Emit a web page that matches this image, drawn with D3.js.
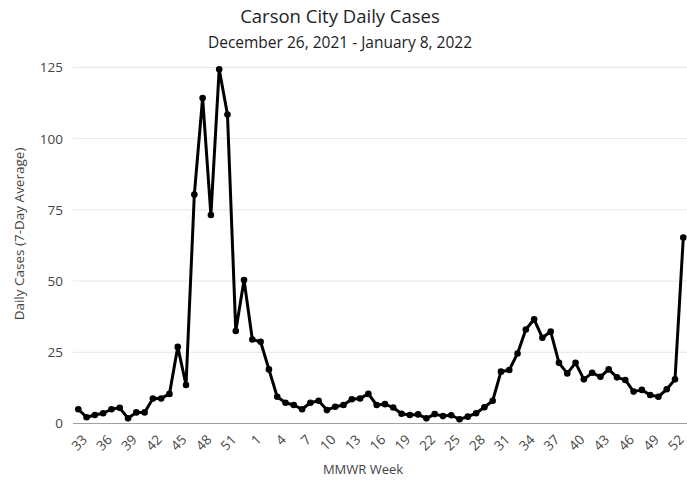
<!DOCTYPE html>
<html>
<head>
<meta charset="utf-8">
<script src="https://cdn.jsdelivr.net/npm/d3@7"></script>
<style>
  body { margin: 0; background: #fff; }
  text { font-family: "Open Sans", sans-serif; }
</style>
</head>
<body>
<div id="chart"></div>
<script>
// MMWR weeks, 2020 week 32 through 2021 week 52
const weeks = [32, 33, 34, 35, 36, 37, 38, 39, 40, 41, 42, 43, 44, 45, 46, 47, 48, 49, 50, 51, 52, 53,
  1, 2, 3, 4, 5, 6, 7, 8, 9, 10, 11, 12, 13, 14, 15, 16, 17, 18, 19, 20, 21, 22, 23, 24, 25, 26,
  27, 28, 29, 30, 31, 32, 33, 34, 35, 36, 37, 38, 39, 40, 41, 42, 43, 44, 45, 46, 47, 48, 49, 50, 51, 52];
const cases = [5.0, 2.2, 3.0, 3.6, 5.0, 5.5, 1.8, 3.9, 3.9, 8.8, 8.8, 10.4, 26.9, 13.5, 80.4, 114.3,
  73.2, 124.4, 108.5, 32.5, 50.4, 29.5, 28.7, 19.0, 9.4, 7.3, 6.5, 5.0, 7.3, 8.0, 4.7, 5.9, 6.5,
  8.5, 8.8, 10.4, 6.5, 6.8, 5.6, 3.4, 3.0, 3.2, 1.8, 3.3, 2.6, 2.9, 1.5, 2.4, 3.6, 5.7, 8.0, 18.2,
  18.8, 24.6, 33.0, 36.6, 30.1, 32.3, 21.3, 17.6, 21.3, 15.5, 17.8, 16.4, 19.0, 16.2, 15.3, 11.2,
  11.8, 10.0, 9.4, 12.0, 15.5, 65.3];
const yTicks = [0, 25, 50, 75, 100, 125];

const data = weeks.map((w, i) => ({ i: i, week: w, value: cases[i] }));

const W = 687, H = 481;
const plotLeft = 73, plotRight = 687, plotTop = 67.5, plotBottom = 423.5;

const svg = d3.select("#chart")
  .append("svg")
  .attr("width", W)
  .attr("height", H);

// scales
const x = d3.scalePoint()
  .domain(data.map(d => d.i))
  .range([78.3, 683.3]);

const y = d3.scaleLinear()
  .domain([0, 125])
  .range([plotBottom, plotTop]);

// gridlines
svg.append("g")
  .selectAll("line")
  .data(yTicks.filter(t => t > 0))
  .enter()
  .append("line")
  .attr("x1", plotLeft)
  .attr("x2", plotRight)
  .attr("y1", d => y(d))
  .attr("y2", d => y(d))
  .attr("stroke", "#e6e6e6")
  .attr("stroke-width", 1);

// zero line
svg.append("line")
  .attr("x1", plotLeft)
  .attr("x2", plotRight)
  .attr("y1", y(0))
  .attr("y2", y(0))
  .attr("stroke", "#a0a0a0")
  .attr("stroke-width", 1);

// y axis
const yAxis = svg.append("g")
  .attr("transform", `translate(${plotLeft},0)`)
  .call(d3.axisLeft(y).tickValues(yTicks).tickSize(0).tickPadding(10));
yAxis.select(".domain").remove();
yAxis.selectAll("text")
  .attr("fill", "#444")
  .style("font-size", "13.5px")
  .style("font-family", "'Open Sans', sans-serif");

// x axis, every third week label
const xAxis = svg.append("g")
  .attr("transform", `translate(0,${plotBottom})`)
  .call(d3.axisBottom(x)
    .tickValues(data.filter(d => d.i % 3 === 1).map(d => d.i))
    .tickFormat(i => weeks[i])
    .tickSize(0));
xAxis.select(".domain").remove();
xAxis.selectAll("text")
  .attr("fill", "#444")
  .style("font-size", "13.5px")
  .style("font-family", "'Open Sans', sans-serif")
  .attr("text-anchor", "end")
  .attr("dy", null)
  .attr("y", 0)
  .attr("transform", "translate(1,17) rotate(-45)");

// line
const line = d3.line()
  .x(d => x(d.i))
  .y(d => y(d.value));

svg.append("path")
  .datum(data)
  .attr("fill", "none")
  .attr("stroke", "#000")
  .attr("stroke-width", 3)
  .attr("stroke-linejoin", "round")
  .attr("d", line);

svg.selectAll(".dot")
  .data(data)
  .enter()
  .append("circle")
  .attr("class", "dot")
  .attr("cx", d => x(d.i))
  .attr("cy", d => y(d.value))
  .attr("r", 3.3)
  .attr("fill", "#000");

// titles
svg.append("text")
  .attr("x", 340)
  .attr("y", 23)
  .attr("text-anchor", "middle")
  .attr("fill", "#222")
  .style("font-size", "18.5px")
  .text("Carson City Daily Cases");

svg.append("text")
  .attr("x", 340)
  .attr("y", 48)
  .attr("text-anchor", "middle")
  .attr("fill", "#222")
  .style("font-size", "15.5px")
  .text("December 26, 2021 - January 8, 2022");

svg.append("text")
  .attr("x", 363)
  .attr("y", 474)
  .attr("text-anchor", "middle")
  .attr("fill", "#444")
  .style("font-size", "13px")
  .text("MMWR Week");

svg.append("text")
  .attr("transform", "translate(24,234) rotate(-90)")
  .attr("text-anchor", "middle")
  .attr("fill", "#444")
  .style("font-size", "13.5px")
  .text("Daily Cases (7-Day Average)");
</script>
</body>
</html>
